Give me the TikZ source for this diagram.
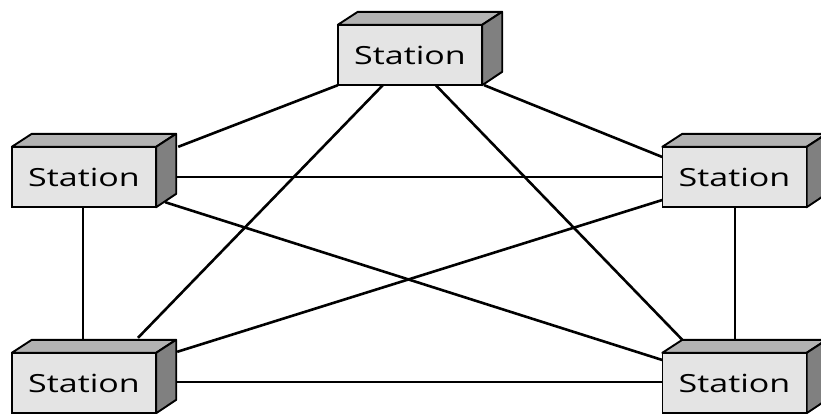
\documentclass[tikz,border=0pt]{standalone}
\usepackage{fontspec}
\newfontfamily\stfont[FakeStretch=1.36]{Open Sans}
\usetikzlibrary{calc}
\definecolor{frontc}{HTML}{E4E4E4}
\definecolor{topc}{HTML}{B2B2B2}
\definecolor{sidec}{HTML}{808080}
\tikzset{
  x=1pt, y=-1pt,
  station/.style={draw=black, line width=1.9pt, fill=frontc, minimum width=144pt, minimum height=60pt,
    inner sep=0pt, font=\stfont\fontsize{25}{30}\selectfont},
  anchorbox/.style={minimum width=144pt, minimum height=60pt, inner sep=0pt},
  link/.style={draw=black, line width=2.6pt},
  facetop/.style={draw=black, line width=1.9pt, fill=topc, line join=round},
  faceside/.style={draw=black, line width=1.9pt, fill=sidec, line join=round}
}
\begin{document}
\begin{tikzpicture}
\useasboundingbox (0,0) rectangle (821,413);
\clip (0,0) rectangle (821,413);
\fill[white] (0,0) rectangle (821,413);
% invisible anchors for connectors (front faces of the stations)
\path node[anchorbox] (T) at (410,55) {}
      node[anchorbox] (L) at (84,177) {}
      node[anchorbox] (R) at (734.5,177) {}
      node[anchorbox] (BL) at (84,383) {}
      node[anchorbox] (BR) at (734.5,383) {};
% connectors
\draw[link] ($(L.north east)+(22,0)$) -- (T.south west);
\draw[link] ($(T.south west)+(45,0)$) -- ($(BL.north)+(54,-15)$);
\draw[link] ($(T.south west)+(98,0)$) -- ($(BR.north west)+(20,-13)$);
\draw[link] ($(T.south east)+(2,0)$) -- ($(R.west)+(0,-20)$);
\draw[link] (L.east) -- (R.west);
\draw[link] ($(R.west)+(0,23)$) -- ($(BL.north east)+(21,-1)$);
\draw[link] ($(L.south east)+(9,-5)$) -- ($(BR.west)+(0,-23)$);
\draw[link] ($(L.south)+(-1,0)$) -- ($(BL.north)+(-1,0)$);
\draw[link] ($(R.south)+(0.5,0)$) -- ($(BR.north)+(0.5,0)$);
\draw[link] ($(BL.east)+(0,-1)$) -- ($(BR.west)+(0,-1)$);
% station boxes
\foreach \n in {T,L,R,BL,BR}{
  \draw[facetop] (\n.north west) -- ++(20,-13) -- ++(144,0) -- (\n.north east) -- cycle;
  \draw[faceside] (\n.north east) -- ++(20,-13) -- ++(0,60) -- (\n.south east) -- cycle;
  \node[station] at (\n) {Station};
}
\end{tikzpicture}
\end{document}
